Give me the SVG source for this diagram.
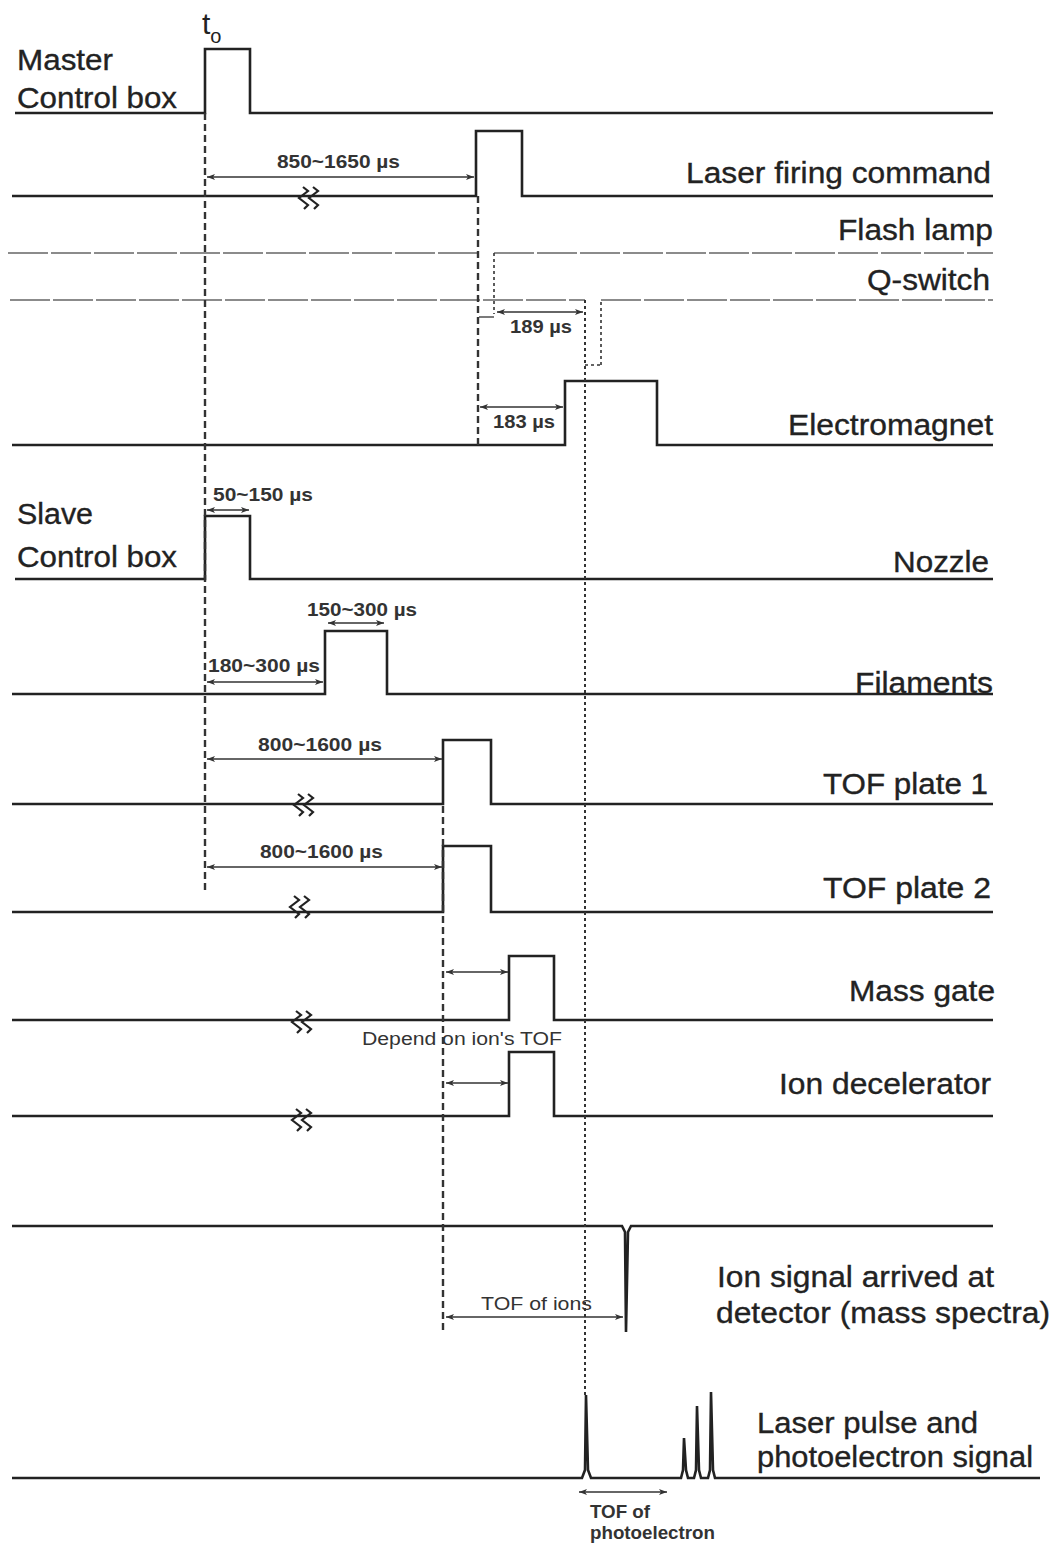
<svg xmlns="http://www.w3.org/2000/svg" xmlns:xlink="http://www.w3.org/1999/xlink" width="1053" height="1546" viewBox="0 0 1053 1546">
<style>
.sig{fill:none;stroke:#222;stroke-width:2.6;stroke-linejoin:miter}
.las{fill:none;stroke:#666;stroke-width:1.5;stroke-dasharray:40 3}
.dot{fill:none;stroke:#333;stroke-width:2;stroke-dasharray:3 3}
.dash{fill:none;stroke:#333;stroke-width:2.4;stroke-dasharray:7 4}
.dim{fill:none;stroke:#333;stroke-width:1.3;marker-start:url(#ah);marker-end:url(#ah)}
.lbl{font-family:"Liberation Sans",Arial,sans-serif;font-size:29px;fill:#222;stroke:#222;stroke-width:0.35}
.sm{font-family:"Liberation Sans",Arial,sans-serif;font-size:18px;font-weight:bold;fill:#333}
.tn{font-family:"Liberation Sans",Arial,sans-serif;font-size:18px;fill:#333}
.brk{fill:none;stroke:#222;stroke-width:2.2}
</style>
<defs>
<marker id="ah" viewBox="0 0 8 8" refX="8" refY="4" markerWidth="8" markerHeight="8" markerUnits="userSpaceOnUse" orient="auto-start-reverse">
<path d="M0,1 L8,4 L0,7 L2,4 z" fill="#333"/>
</marker>
<g id="brk">
<path class="brk" d="M5,0 L10,4 L1,11 L10,18 L6,22"/>
<path class="brk" d="M15,0 L20,4 L11,11 L20,18 L16,22"/>
</g>
</defs>
<rect width="1053" height="1546" fill="#fff"/>

<g id="master">
<path class="sig" d="M15,113 H205 V49 H250 V113 H993"/>
<text class="lbl" x="17" y="70" textLength="96" lengthAdjust="spacingAndGlyphs">Master</text>
<text class="lbl" x="17" y="108" textLength="160" lengthAdjust="spacingAndGlyphs">Control box</text>
<text x="202" y="34" font-family="Liberation Sans, Arial, sans-serif" font-size="30" fill="#222">t<tspan font-size="20" dy="9">o</tspan></text>
</g>

<g id="laser-firing">
<path class="sig" d="M12,196 H476 V131 H522 V196 H993"/>
<use xlink:href="#brk" x="298" y="187"/>
<text class="lbl" x="686" y="183" textLength="305" lengthAdjust="spacingAndGlyphs">Laser firing command</text>
</g>

<g id="flash-lamp">
<path class="las" d="M8,253 H477"/>
<path class="las" d="M494,253 H993"/>
<path class="dot" d="M494,253 V314" style="stroke-width:1.6"/>
<text class="lbl" x="838" y="240" textLength="155" lengthAdjust="spacingAndGlyphs">Flash lamp</text>
</g>

<g id="q-switch">
<path class="las" d="M10,300 H585"/>
<path class="dot" d="M601,365 V300" style="stroke-width:1.6"/>
<path class="dot" d="M585,365 H601" style="stroke-width:1.6"/>
<path class="las" d="M601,300 H993"/>
<text class="lbl" x="867" y="290" textLength="123" lengthAdjust="spacingAndGlyphs">Q-switch</text>
</g>

<g id="electromagnet">
<path class="sig" d="M12,445 H565 V381 H657 V445 H993"/>
<text class="lbl" x="788" y="435" textLength="205" lengthAdjust="spacingAndGlyphs">Electromagnet</text>
</g>

<g id="slave-nozzle">
<path class="sig" d="M15,579 H205 V516 H250 V579 H993"/>
<text class="lbl" x="17" y="524" textLength="76" lengthAdjust="spacingAndGlyphs">Slave</text>
<text class="lbl" x="17" y="567" textLength="160" lengthAdjust="spacingAndGlyphs">Control box</text>
<text class="lbl" x="893" y="572" textLength="96" lengthAdjust="spacingAndGlyphs">Nozzle</text>
</g>

<g id="filaments">
<path class="sig" d="M12,694 H325 V631 H387 V694 H993"/>
<text class="lbl" x="855" y="693" textLength="138" lengthAdjust="spacingAndGlyphs">Filaments</text>
</g>

<g id="tof-plate-1">
<path class="sig" d="M12,804 H443 V740 H491 V804 H993"/>
<use xlink:href="#brk" x="293" y="794"/>
<text class="lbl" x="823" y="794" textLength="165" lengthAdjust="spacingAndGlyphs">TOF plate 1</text>
</g>

<g id="tof-plate-2">
<path class="sig" d="M12,912 H443 V846 H491 V912 H993"/>
<use xlink:href="#brk" x="289" y="896"/>
<text class="lbl" x="823" y="898" textLength="168" lengthAdjust="spacingAndGlyphs">TOF plate 2</text>
</g>

<g id="mass-gate">
<path class="sig" d="M12,1020 H509 V956 H554 V1020 H993"/>
<use xlink:href="#brk" x="291" y="1011"/>
<text class="lbl" x="849" y="1001" textLength="146" lengthAdjust="spacingAndGlyphs">Mass gate</text>
</g>

<g id="ion-decelerator">
<path class="sig" d="M12,1116 H509 V1052 H554 V1116 H993"/>
<use xlink:href="#brk" x="291" y="1109"/>
<text class="lbl" x="779" y="1094" textLength="212" lengthAdjust="spacingAndGlyphs">Ion decelerator</text>
</g>

<g id="ion-signal">
<path class="sig" d="M12,1226 H622 L625,1232 L626,1332 L628,1232 L631,1226 H993"/>
<text class="lbl" x="717" y="1287" textLength="277" lengthAdjust="spacingAndGlyphs">Ion signal arrived at</text>
<text class="lbl" x="716" y="1323" textLength="334" lengthAdjust="spacingAndGlyphs">detector (mass spectra)</text>
</g>

<g id="laser-pulse">
<path class="sig" d="M12,1478 H582 L585,1470 L586,1395 L588,1470 L591,1478 H681 L683,1470 L684,1438 L686,1470 L688,1478 H694 L696,1470 L697,1406 L699,1470 L701,1478 H708 L710,1470 L711,1392 L713,1470 L715,1478 H1040"/>
<text class="lbl" x="757" y="1433" textLength="221" lengthAdjust="spacingAndGlyphs">Laser pulse and</text>
<text class="lbl" x="757" y="1467" textLength="276" lengthAdjust="spacingAndGlyphs">photoelectron signal</text>
</g>

<g id="connectors">
<path class="dash" d="M205,113 V890"/>
<path class="dash" d="M478,196 V445"/>
<path class="dot" d="M585,300 V1398"/>
<path class="dash" d="M443,806 V1334"/>
<path d="M479,317 H494" fill="none" stroke="#333" stroke-width="1.3"/>
<path class="dim" d="M207,177 H474"/>
<path class="dim" d="M497,312 H583"/>
<path class="dim" d="M480,407 H563"/>
<path class="dim" d="M207,510 H249"/>
<path class="dim" d="M328,623 H384"/>
<path class="dim" d="M207,682 H323"/>
<path class="dim" d="M207,759 H442"/>
<path class="dim" d="M207,867 H442"/>
<path class="dim" d="M446,972 H508"/>
<path class="dim" d="M446,1083 H508"/>
<path class="dim" d="M446,1317 H623"/>
<path class="dim" d="M579,1492 H667"/>
<text class="sm" x="277" y="168" textLength="123" lengthAdjust="spacingAndGlyphs">850~1650 µs</text>
<text class="sm" x="510" y="333" textLength="62" lengthAdjust="spacingAndGlyphs">189 µs</text>
<text class="sm" x="493" y="428" textLength="62" lengthAdjust="spacingAndGlyphs">183 µs</text>
<text class="sm" x="213" y="501" textLength="100" lengthAdjust="spacingAndGlyphs">50~150 µs</text>
<text class="sm" x="307" y="616" textLength="110" lengthAdjust="spacingAndGlyphs">150~300 µs</text>
<text class="sm" x="208" y="672" textLength="112" lengthAdjust="spacingAndGlyphs">180~300 µs</text>
<text class="sm" x="258" y="751" textLength="124" lengthAdjust="spacingAndGlyphs">800~1600 µs</text>
<text class="sm" x="260" y="858" textLength="123" lengthAdjust="spacingAndGlyphs">800~1600 µs</text>
<text class="tn" x="362" y="1045" textLength="200" lengthAdjust="spacingAndGlyphs">Depend on ion's TOF</text>
<text class="tn" x="481" y="1310" textLength="111" lengthAdjust="spacingAndGlyphs">TOF of ions</text>
<text class="sm" x="590" y="1518" textLength="60" lengthAdjust="spacingAndGlyphs">TOF of</text>
<text class="sm" x="590" y="1539" textLength="125" lengthAdjust="spacingAndGlyphs">photoelectron</text>
</g>
</svg>
